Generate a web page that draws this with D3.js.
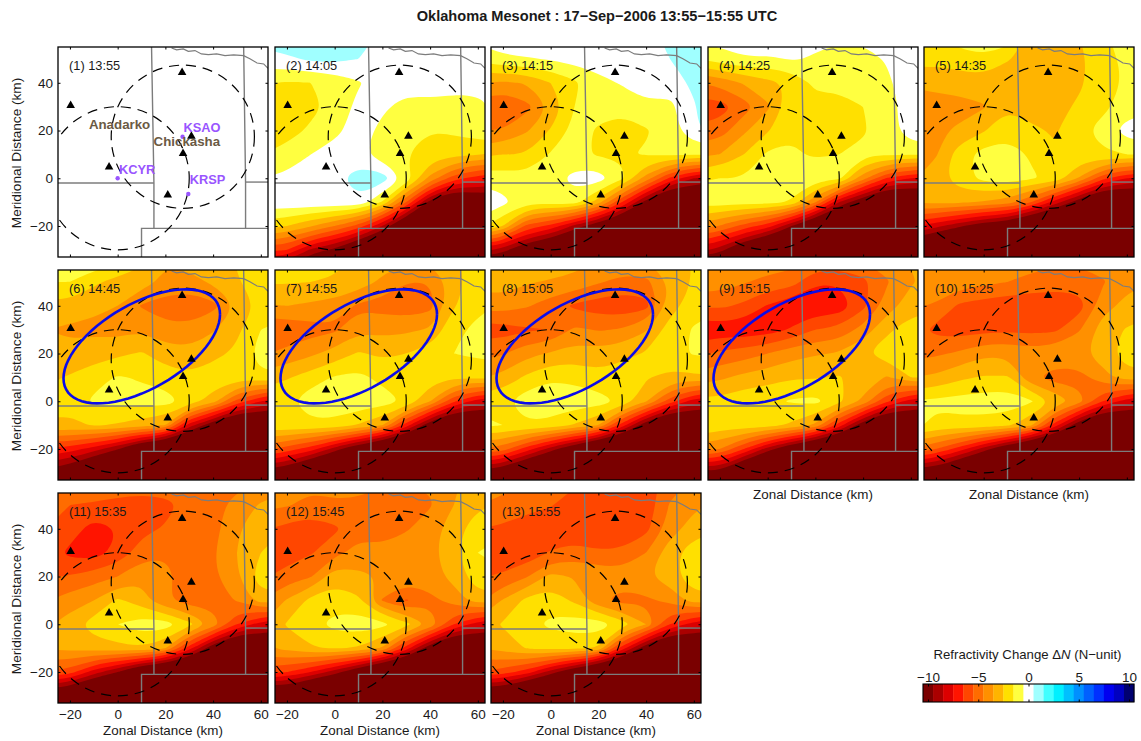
<!DOCTYPE html>
<html>
<head>
<meta charset="utf-8">
<script src="https://cdnjs.cloudflare.com/ajax/libs/d3/7.8.5/d3.min.js"></script>
<style>
body { margin: 0; background: #fff; }
text { font-family: "Liberation Sans", Arial, sans-serif; fill: #1a1a1a; }
</style>
</head>
<body>
<div id="chart"></div>
<script>
var svgWidth = 1141;
var svgHeight = 741;

var times = ["13:55", "14:05", "14:15", "14:25", "14:35", "14:45", "14:55",
    "15:05", "15:15", "15:25", "15:35", "15:45", "15:55"];

// grid the values were read on (km), rows go north to south
var gridX = [-30, -20, -10, 0, 10, 20, 30, 40, 50, 60, 70];
var gridY = [60, 50, 40, 30, 20, 10, 0, -10, -20, -30, -40];

var dN1355 = gridY.map(() => gridX.map(() => 0));

var dN1405 = [
    [1, 1.3, 1.4, 1.4, 1.2, 0.3, 0, 0, 0, 0, 0],
    [0.2, 0.3, 0.7, 0.8, 0.5, 0, 0, 0, 0, 0, 0],
    [-1.4, -1.6, -1.5, -1.2, -0.6, 0, 0, 0, -0.1, 0, 0],
    [-2, -2.2, -1.8, -1.2, -0.2, -0.3, -0.9, -0.8, -0.9, -0.9, -0.1],
    [-1.9, -2, -1.3, -0.8, 0, -0.8, -1.4, -1.5, -1.3, -1, -0.3],
    [-1.5, -1, -0.5, 0, -0.2, -1.1, -1.5, -1.9, -2.2, -2.4, -2.8],
    [-0.5, -0.3, -0.1, 0.2, 1.1, 1, -0.7, -3.8, -6, -7, -7.5],
    [0.2, 0.2, 0.2, 0.3, 0.3, -1.6, -5.5, -10, -12.5, -11, -11],
    [-2, -2.5, -3.4, -4.5, -5.9, -8.5, -12, -13, -13, -13, -13],
    [-6, -6.5, -8.7, -9.8, -12, -14, -14, -14, -14, -14, -14],
    [-11, -11, -13, -14, -15, -15, -15, -15, -15, -15, -15]
];
var dN1415 = [
    [0, 0.3, 0.6, 1.2, 0.9, 0.3, 0, 0, 1, 1.3, 1.4],
    [-1.2, -0.7, -0.6, -0.4, -0.1, 0, 0, 0, 0.5, 1, 1.3],
    [-3.4, -3.7, -3.4, -2.5, -1.7, -0.8, -0.4, 0, 0, 0.7, 0.8],
    [-5, -5.6, -4.8, -3.5, -1.5, -1.2, -1.2, -0.7, -0.8, 0.4, 1.3],
    [-4.5, -4.5, -3.6, -2.4, -1.2, -1.6, -2, -1.6, -1, 0.3, 1.2],
    [-2.7, -2.5, -2.5, -1.4, -1.3, -1.6, -1.6, -1.4, -1.3, -1.4, -1.4],
    [-0.9, -1, -1.1, -1, -0.1, 0, -1.3, -3.9, -6.7, -8.5, -9],
    [0.5, -0.2, -1.2, -1, -1, -3, -6.5, -10, -13, -12, -12],
    [-1, -2.5, -5.8, -6.8, -8.8, -10.5, -12.5, -14, -14, -14, -14],
    [-8, -9, -11, -12, -14, -14, -14, -14, -14, -14, -14],
    [-13, -14, -15, -15, -15, -15, -15, -15, -15, -15, -15]
];
var dN1425 = [
    [0, 0, 0.3, 0.8, 0, -0.2, -0.3, -0.2, 0, 0, 0.3],
    [-1.5, -1, -0.6, -0.7, -0.4, -0.6, -0.9, -0.9, -0.4, 0, 0.3],
    [-4.5, -4.2, -3.4, -2.8, -2.3, -1.3, -1.2, -1.2, -0.7, 0.1, 0.4],
    [-6, -6, -5, -3.7, -1.8, -1.8, -1.9, -1.5, -1.1, 0.2, 0.9],
    [-5.3, -5, -3.7, -2.6, -1.6, -1.8, -2, -1.6, -1.1, 0.2, 0.6],
    [-3.7, -3.5, -2.5, -1.3, -1.4, -1.6, -1.5, -1.3, -1.3, -1.4, -1.4],
    [-1.6, -1.5, -1.5, -1, -1, -1, -1.2, -4.1, -6.6, -7.5, -8],
    [-1, -1, -1.1, -1.1, -1.6, -4.4, -8.5, -10.7, -13, -12, -12],
    [-3.7, -4.6, -5.9, -7, -9.5, -12, -14, -14, -14, -14, -14],
    [-8, -9, -11.5, -13, -14, -14, -14, -14, -14, -14, -14],
    [-13, -14, -15, -15, -15, -15, -15, -15, -15, -15, -15]
];
var dN1435 = [
    [-1.3, -1.5, -0.8, -0.4, -0.6, -2.8, -2.6, -2.5, -1.6, -1, -0.9],
    [-2, -2.2, -2, -1.8, -2.4, -3, -2.8, -2.7, -2, -1.2, -1.1],
    [-3.4, -3.2, -3, -2.9, -3.3, -3.5, -2.9, -2.7, -1.8, -1.4, -1.2],
    [-3.9, -3.9, -3.9, -3.6, -2.6, -3, -2.9, -2.3, -1.7, -1.1, -0.8],
    [-3.8, -3.7, -3.3, -2.6, -1.8, -2.3, -2.6, -1.7, -1.2, 0, 0.4],
    [-3.7, -3.6, -1.9, -1.1, -1.1, -1.6, -2.4, -1.8, -1.6, -1.5, -1.5],
    [-3.6, -3, -1.9, -1.2, -0.9, -1.4, -1.7, -3.6, -6.2, -7.5, -8],
    [-3.4, -3.2, -3.3, -3.6, -4, -5.5, -8, -10.3, -13, -12, -12],
    [-7.2, -8.2, -9.3, -10.5, -11, -13, -14, -14, -14, -14, -14],
    [-11.5, -13.5, -14, -14, -14, -14, -14, -14, -14, -14, -14],
    [-15, -15, -15, -15, -15, -15, -15, -15, -15, -15, -15]
];
var dN1445 = [
    [-0.2, -0.5, -0.6, -1, -2.2, -3.3, -3, -2.9, -2.4, -1.6, -1.4],
    [-1.5, -1.5, -2.3, -2.9, -3, -3.8, -3.9, -3.3, -2.6, -1.9, -1.7],
    [-2.8, -2.9, -3.3, -3.5, -4.6, -5, -5.2, -4.8, -3.5, -2.2, -2],
    [-3.5, -3.7, -3.7, -3.9, -3.6, -4.2, -4.2, -3.6, -2.7, -1.5, -1.1],
    [-3, -3.2, -3, -2.7, -2.4, -3, -3.2, -2.8, -2.3, -1, -0.8],
    [-2.7, -2.4, -1.9, -1.4, -1.6, -2, -2.3, -1.9, -2, -1.7, -1.8],
    [-2.2, -2.2, -1.3, -1.2, -1.2, -1, -1.9, -3, -5.8, -7.5, -8.5],
    [-2.6, -2.7, -2.4, -2.6, -3, -3.5, -8, -10.5, -13, -12, -12],
    [-6.5, -7, -8, -9.4, -12, -13, -14, -14, -14, -14, -14],
    [-10, -11, -13, -14, -14, -14, -14, -14, -14, -14, -14],
    [-15, -15, -15, -15, -15, -15, -15, -15, -15, -15, -15]
];
var dN1455 = [
    [-1.6, -1.8, -2, -2.2, -2.6, -3, -3.2, -3.2, -2.6, -2, -1.8],
    [-2.4, -2.4, -2.5, -2.6, -2.9, -3.7, -4.5, -4.5, -2.9, -2, -1.7],
    [-3.6, -3.5, -3.7, -3.9, -4.7, -4.9, -5.1, -4.9, -2.6, -1.7, -1.4],
    [-5.3, -5.3, -4.9, -4.7, -3.7, -3.8, -3.7, -3.4, -1.7, -1.3, -1.1],
    [-4.6, -4.2, -3.7, -3.1, -2.4, -2.7, -2.5, -2, -1.5, -1.3, -1.2],
    [-3, -2.6, -2, -1.4, -1.2, -1.8, -1.9, -2, -2.4, -2.2, -2.2],
    [-1.8, -1.7, -0.9, -0.9, -0.8, -1, -1.6, -3.5, -6.3, -8, -8.5],
    [-1.7, -1.7, -1.7, -1.8, -2.6, -3.4, -7, -10.5, -13, -12, -12],
    [-5, -6, -7, -9, -11, -13, -14, -14, -14, -14, -14],
    [-10, -11, -13, -14, -14, -14, -14, -14, -14, -14, -14],
    [-15, -15, -15, -15, -15, -15, -15, -15, -15, -15, -15]
];
var dN1505 = [
    [-2.2, -2.3, -2.6, -2.8, -3, -3.4, -3.6, -3.4, -3, -2.4, -2.2],
    [-3, -3, -3.4, -3.6, -3.8, -4.4, -4.8, -4.8, -3.4, -2.4, -2.1],
    [-4.2, -4, -4.4, -5, -5.7, -6, -6.2, -5.9, -3, -1.9, -1.6],
    [-5.9, -6, -5.6, -5.5, -4.3, -4.6, -4.4, -3.6, -2, -1.4, -1.2],
    [-4.8, -4.6, -3.8, -3.4, -3, -3.1, -2.8, -2.4, -1.8, -1.4, -1.3],
    [-3.6, -3.2, -2.3, -1.6, -1.8, -2.2, -1.9, -2.4, -2.8, -2.7, -2.6],
    [-1.9, -1.7, -0.9, -0.9, -0.9, -1, -1.7, -3.4, -6, -8, -8.5],
    [-1.2, -1.5, -1.6, -1.8, -2.6, -3.5, -7, -10.5, -13, -12, -12],
    [-4.5, -5, -7, -9, -11, -13, -14, -14, -14, -14, -14],
    [-10, -11, -13, -14, -14, -14, -14, -14, -14, -14, -14],
    [-15, -15, -15, -15, -15, -15, -15, -15, -15, -15, -15]
];
var dN1515 = [
    [-3, -3.3, -3.5, -3.8, -4, -4.4, -4.6, -4.4, -4, -3.4, -3],
    [-3.8, -4, -4.4, -4.8, -5, -6.4, -6.4, -5.8, -4.6, -3.6, -3.2],
    [-5.4, -5.3, -5.7, -6.6, -7.2, -7.2, -7.2, -5.8, -4, -3, -2.7],
    [-7.2, -7.1, -7.2, -7, -6.4, -5.5, -5.2, -4.1, -2.7, -2, -1.8],
    [-5.8, -5.3, -5, -4.5, -3.9, -3.6, -3.4, -2.6, -2, -1.7, -1.5],
    [-4, -3.7, -3.2, -2.9, -2.6, -2.6, -2.4, -3, -3.6, -2.5, -2.5],
    [-2.2, -2.2, -1.8, -1.7, -1.4, -1.2, -2.2, -3.7, -6.3, -8, -8.5],
    [-1.4, -1.9, -1.9, -2, -2.7, -3.7, -7, -10.5, -13, -12, -12],
    [-4, -4.5, -6.5, -9, -11, -13, -14, -14, -14, -14, -14],
    [-10, -10, -13, -14, -14, -14, -14, -14, -14, -14, -14],
    [-15, -15, -15, -15, -15, -15, -15, -15, -15, -15, -15]
];
var dN1525 = [
    [-3, -3.2, -3.4, -3.5, -3.8, -4, -4.2, -4.2, -4, -3.6, -3.4],
    [-3.8, -3.9, -4, -4.2, -4.5, -4.8, -5, -5, -4.6, -3.8, -3.5],
    [-4.4, -4.6, -5.7, -6, -6.2, -6.3, -6.3, -6, -3.9, -3.2, -3],
    [-5, -5.8, -6, -5.8, -5.7, -5.8, -5.7, -4.6, -3, -2.4, -2],
    [-4.8, -4.7, -4.3, -3.7, -3.7, -4, -3.8, -3.7, -3.1, -1.8, -1.5],
    [-3.5, -3.3, -2.7, -2.4, -2.4, -4.3, -5, -4.9, -3.8, -3, -3],
    [-1.4, -1.3, -1.1, -1, -0.8, -1.4, -2.7, -4, -6.5, -8, -8.5],
    [-1.1, -1.8, -1.8, -1.9, -2.3, -3.3, -7, -10.5, -13, -12, -12],
    [-4.5, -5.5, -7, -9, -11, -13, -14, -14, -14, -14, -14],
    [-10.5, -11, -13, -14, -14, -14, -14, -14, -14, -14, -14],
    [-15, -15, -15, -15, -15, -15, -15, -15, -15, -15, -15]
];
var dN1535 = [
    [-4.5, -4.7, -4.8, -4.8, -4.8, -4.8, -5, -6, -5, -4.4, -4],
    [-5, -5.5, -5.6, -5.8, -6, -5.8, -5.2, -5, -4, -3.4, -3],
    [-5.5, -5.9, -7, -6.5, -5.8, -5.4, -5.1, -4.9, -3.6, -2.9, -2.5],
    [-5.8, -6.8, -7, -6.2, -5, -4.6, -5, -4.6, -3.5, -2.5, -2],
    [-5.6, -5.4, -5, -4.5, -3.7, -4.2, -5, -4.7, -3.6, -1.9, -1.6],
    [-4.6, -4, -3.5, -2.3, -3.1, -4.4, -5, -5, -4.4, -3, -3],
    [-3.7, -3, -2, -1.5, -0.9, -1, -2.2, -3.8, -6.5, -8, -8.5],
    [-3.4, -3.2, -3, -2.8, -2.6, -3.4, -7, -10.5, -13, -12, -12],
    [-5.5, -6, -8, -9.5, -12, -13, -14, -14, -14, -14, -14],
    [-11, -12, -14, -14, -14, -14, -14, -14, -14, -14, -14],
    [-15, -15, -15, -15, -15, -15, -15, -15, -15, -15, -15]
];
var dN1545 = [
    [-4, -4, -4.2, -4.2, -4.3, -4.4, -4.4, -4.4, -3.6, -3.2, -3],
    [-4.2, -4.4, -4.8, -4.6, -4.6, -4.8, -4.8, -4.6, -3.5, -2.7, -2.4],
    [-5.4, -5.8, -6.1, -5.7, -4.8, -5, -4.6, -4, -2.9, -1.9, -1.6],
    [-6, -6.1, -5.6, -4.8, -4.2, -4.2, -3.9, -3.8, -2.8, -1.5, -1.3],
    [-5.7, -5, -4.6, -2.9, -3.2, -3.6, -4, -3.9, -3.2, -1.8, -1.6],
    [-4.5, -3.4, -2.2, -1.9, -2.3, -4.6, -5.6, -4.8, -4, -3, -3],
    [-3.5, -2.4, -1.8, -1.2, -0.9, -1.2, -2.2, -3.6, -6.5, -8, -8.5],
    [-3.6, -3.2, -2.6, -2.4, -2.6, -3.6, -7, -10.5, -13, -12, -12],
    [-6, -6.5, -7.5, -9, -11, -13, -14, -14, -14, -14, -14],
    [-12, -12, -14, -14, -14, -14, -14, -14, -14, -14, -14],
    [-15, -15, -15, -15, -15, -15, -15, -15, -15, -15, -15]
];
var dN1555 = [
    [-4, -4.2, -4.5, -4.8, -5.2, -6, -6, -6, -5, -4.4, -4],
    [-4.5, -4.7, -5, -5.4, -6.2, -6.2, -6.2, -6.2, -4.4, -3.7, -3.4],
    [-5.5, -5.7, -6.3, -6.3, -6.3, -6.3, -6.3, -5.8, -4, -3, -2.6],
    [-6.2, -6.4, -6.2, -5.4, -5, -5.4, -5.3, -4.5, -2.9, -1.9, -1.6],
    [-5.6, -5.3, -4.6, -3.2, -3.6, -3.7, -4, -3.6, -3, -1.7, -1.5],
    [-4.8, -3.4, -2.2, -1.9, -2.7, -4.3, -4.9, -4.7, -4.2, -3, -3],
    [-3, -2.4, -1.8, -1.3, -1, -0.9, -2, -3.5, -6.5, -8, -8.5],
    [-3.5, -3.1, -2.4, -2.2, -2.3, -2.6, -7, -10.5, -13, -12, -12],
    [-5.5, -6, -7, -9, -11, -13, -14, -14, -14, -14, -14],
    [-11.5, -12, -14, -14, -14, -14, -14, -14, -14, -14, -14],
    [-15, -15, -15, -15, -15, -15, -15, -15, -15, -15, -15]
];

var panelData = [dN1355, dN1405, dN1415, dN1425, dN1435, dN1445, dN1455,
    dN1505, dN1515, dN1525, dN1535, dN1545, dN1555];

var bandValues = d3.range(-10, 11);
var bandColors = ["#7a0000", "#aa0000", "#dc0000", "#ff1400", "#ff4600", "#ff6c00", "#ff9000",
    "#ffb400", "#ffe000", "#ffff40", "#ffffff", "#a0ffff", "#40ffff", "#00f0ff", "#00c0ff",
    "#0090ff", "#0060ff", "#0030ff", "#0000f0", "#0000c0", "#000070"];

var xTicks = [-20, 0, 20, 40, 60];
var yTicks = [-20, 0, 20, 40];

// mesonet stations
var stationX = [-19.7, -3.6, 27, 30.9, 27.4, 21];
var stationY = [30.5, 4.7, 44.3, 17.6, 10.4, -7];

// radar sites and the towns, only named in the first panel
var radarNames = ["KCYR", "KSAO", "KRSP"];
var radarX = [0, 27.2, 29.6];
var radarY = [0, 17.4, -6.6];
var radarLabelX = [0.6, 27.6, 30.2];
var radarLabelY = [1.8, 19.2, -2.2];
var townNames = ["Anadarko", "Chickasha"];
var townX = [0.8, 29];
var townY = [20.5, 13.6];

// coverage rings, centred on KCYR and KSAO
var ringX = [0, 27.3];
var ringY = [0, 17.4];
var ringRadius = 30;

var countyLines = [
    [[14.2, 55], [15.2, -2], [15.2, -21]],
    [[-25, -2], [15.2, -2]],
    [[52.8, 55], [53.6, -2], [53.6, -21]],
    [[53.6, -1.6], [63, -1.6]],
    [[10, -33], [10, -21], [63, -21]]
];
var riverLine = [[22.6, 54.6], [24.7, 53.8], [27.5, 54.2], [29.6, 53.2], [32.4, 53.5], [35.1, 52.1],
    [38, 51.8], [41.5, 52.1], [45, 51.4], [48.6, 51.7], [52.8, 51.4], [55.6, 50], [58.4, 48.3],
    [61.2, 47.9], [63, 46.1]];

// blue ellipse in panels 6-9
var ellipsePanels = [5, 6, 7, 8];
var ellipseCenter = [10.1, 23];
var ellipseAxes = [32.8, 23.9];
var ellipsePhase = 0.975;

var panelWidth = 210;
var panelHeight = 210;
var panelLeft = [58, 275, 491, 708, 924];
var panelTop = [47, 270, 493];

var svg = d3
    .select("#chart")
    .append("svg")
    .attr("width", svgWidth)
    .attr("height", svgHeight)
    .style("display", "block");

svg.append("text")
    .attr("x", 597)
    .attr("y", 21)
    .attr("text-anchor", "middle")
    .attr("font-size", 14.6)
    .attr("font-weight", "bold")
    .text("Oklahoma Mesonet : 17\u2212Sep\u22122006 13:55\u221215:55 UTC");

var xScale = d3.scaleLinear().domain([-25, 63]).range([0, panelWidth]);
var yScale = d3.scaleLinear().domain([-33, 55]).range([panelHeight, 0]);

var contourGen = d3.contours()
    .size([gridX.length, gridY.length])
    .thresholds(bandValues.slice(1).map(d => d - 0.5));

// contour coordinates are in cells, value i sits at i + 0.5
var cellX = d3.scaleLinear().domain([0.5, gridX.length - 0.5]).range([gridX[0], gridX[gridX.length - 1]]);
var cellY = d3.scaleLinear().domain([0.5, gridY.length - 0.5]).range([gridY[0], gridY[gridY.length - 1]]);

var ringPath = d3.line()
    .x(d => xScale(cellX(d[0])))
    .y(d => yScale(cellY(d[1])))
    .curve(d3.curveBasisClosed);

var kmLine = d3.line().x(d => xScale(d[0])).y(d => yScale(d[1]));

var ellipsePoints = d3.range(0, 73).map(function(i) {
    var t = i / 72 * 2 * Math.PI;
    return [ellipseCenter[0] + ellipseAxes[0] * Math.cos(t),
        ellipseCenter[1] + ellipseAxes[1] * Math.cos(t - ellipsePhase)];
});

svg.append("clipPath")
    .attr("id", "panelClip")
    .append("rect")
    .attr("width", panelWidth)
    .attr("height", panelHeight);

function drawPanel(index) {
    var col = index % 5;
    var row = Math.floor(index / 5);
    var panel = svg.append("g")
        .attr("transform", `translate(${panelLeft[col]},${panelTop[row]})`);
    var plot = panel.append("g").attr("clip-path", "url(#panelClip)");

    // lowest band goes underneath, each contour paints the one above it
    plot.append("rect")
        .attr("width", panelWidth)
        .attr("height", panelHeight)
        .attr("fill", bandColors[0]);

    plot.selectAll("path.band")
        .data(contourGen(panelData[index].flat()))
        .enter()
        .append("path")
        .attr("class", "band")
        .attr("fill", (d, i) => bandColors[i + 1])
        .attr("d", function(d) {
            return d.coordinates.map(function(polygon) {
                return polygon.map(ring => ringPath(ring.slice(0, -1))).join("");
            }).join("");
        });

    plot.selectAll("path.county")
        .data(countyLines)
        .enter()
        .append("path")
        .attr("class", "county")
        .attr("d", kmLine)
        .attr("fill", "none")
        .attr("stroke", "#7c7c7c")
        .attr("stroke-width", 1.4);

    plot.append("path")
        .attr("d", kmLine(riverLine))
        .attr("fill", "none")
        .attr("stroke", "#7c7c7c")
        .attr("stroke-width", 1.2);

    plot.selectAll("circle.ring")
        .data(ringX)
        .enter()
        .append("circle")
        .attr("class", "ring")
        .attr("cx", d => xScale(d))
        .attr("cy", (d, i) => yScale(ringY[i]))
        .attr("r", xScale(ringRadius) - xScale(0))
        .attr("fill", "none")
        .attr("stroke", "#000")
        .attr("stroke-width", 1.2)
        .attr("stroke-dasharray", "10,7");

    if (ellipsePanels.includes(index)) {
        plot.append("path")
            .attr("d", kmLine(ellipsePoints))
            .attr("fill", "none")
            .attr("stroke", "#0c0ce8")
            .attr("stroke-width", 2.6);
    }

    plot.selectAll("path.station")
        .data(stationX)
        .enter()
        .append("path")
        .attr("class", "station")
        .attr("d", d3.symbol().type(d3.symbolTriangle).size(32))
        .attr("transform", (d, i) => `translate(${xScale(d)},${yScale(stationY[i])})`)
        .attr("fill", "#000");

    if (index === 0) {
        plot.selectAll("circle.radar")
            .data(radarX)
            .enter()
            .append("circle")
            .attr("class", "radar")
            .attr("cx", d => xScale(d))
            .attr("cy", (d, i) => yScale(radarY[i]))
            .attr("r", 2.2)
            .attr("fill", "#9955ff");

        plot.selectAll("text.radar")
            .data(radarNames)
            .enter()
            .append("text")
            .attr("class", "radar")
            .attr("x", (d, i) => xScale(radarLabelX[i]))
            .attr("y", (d, i) => yScale(radarLabelY[i]))
            .attr("font-size", 12.8)
            .attr("font-weight", "bold")
            .style("fill", "#9955ff")
            .text(d => d);

        plot.selectAll("text.town")
            .data(townNames)
            .enter()
            .append("text")
            .attr("class", "town")
            .attr("x", (d, i) => xScale(townX[i]))
            .attr("y", (d, i) => yScale(townY[i]))
            .attr("text-anchor", "middle")
            .attr("font-size", 13.3)
            .attr("font-weight", "bold")
            .style("fill", "#6b5a44")
            .text(d => d);
    }

    panel.append("text")
        .attr("x", 11)
        .attr("y", 22.5)
        .attr("font-size", 12.8)
        .text(`(${index + 1}) ${times[index]}`);

    // ticks point inward on all four sides, numbers only on the outer panels
    var showX = index >= 10;
    var showY = col === 0;
    var axes = [
        panel.append("g").attr("transform", `translate(0,${panelHeight})`)
            .call(d3.axisBottom(xScale).tickValues(xTicks).tickSizeInner(-2.5).tickSizeOuter(0).tickPadding(6)
                .tickFormat(showX ? d3.format("d") : "")),
        panel.append("g")
            .call(d3.axisTop(xScale).tickValues(xTicks).tickSizeInner(-2.5).tickSizeOuter(0).tickFormat("")),
        panel.append("g")
            .call(d3.axisLeft(yScale).tickValues(yTicks).tickSizeInner(-2.5).tickSizeOuter(0).tickPadding(5)
                .tickFormat(showY ? d3.format("d") : "")),
        panel.append("g").attr("transform", `translate(${panelWidth},0)`)
            .call(d3.axisRight(yScale).tickValues(yTicks).tickSizeInner(-2.5).tickSizeOuter(0).tickFormat(""))
    ];
    axes.forEach(function(axis) {
        axis.select(".domain").remove();
        axis.selectAll("text")
            .attr("font-size", 13.5)
            .attr("font-family", "'Liberation Sans', Arial, sans-serif");
        axis.selectAll("line").attr("stroke", "#000");
    });

    panel.append("rect")
        .attr("width", panelWidth)
        .attr("height", panelHeight)
        .attr("fill", "none")
        .attr("stroke", "#000")
        .attr("stroke-width", 1.3);

    if (index >= 8) {
        panel.append("text")
            .attr("x", panelWidth / 2)
            .attr("y", panelHeight + (showX ? 32 : 19))
            .attr("text-anchor", "middle")
            .attr("font-size", 13.4)
            .text("Zonal Distance (km)");
    }
    if (showY) {
        panel.append("text")
            .attr("transform", `translate(-37,${panelHeight / 2 + 1}) rotate(-90)`)
            .attr("text-anchor", "middle")
            .attr("font-size", 13.6)
            .text("Meridional Distance (km)");
    }
}

d3.range(times.length).forEach(drawPanel);

// colour bar
var barLeft = 923;
var barWidth = 211;
var barTop = 684;
var barHeight = 18;

var barScale = d3.scaleLinear().domain([-10.5, 10.5]).range([0, barWidth]);
var bar = svg.append("g").attr("transform", `translate(${barLeft},${barTop})`);

bar.selectAll("rect.swatch")
    .data(bandValues)
    .enter()
    .append("rect")
    .attr("class", "swatch")
    .attr("x", d => barScale(d - 0.5))
    .attr("width", barScale(1) - barScale(0) + 0.3)
    .attr("height", barHeight)
    .attr("fill", (d, i) => bandColors[i]);

var barTicks = [-10, -5, 0, 5, 10];
var barAxis = bar.append("g")
    .call(d3.axisTop(barScale).tickValues(barTicks).tickSizeInner(-2.5).tickSizeOuter(0).tickPadding(4)
        .tickFormat(d3.format("d")));
barAxis.select(".domain").remove();
barAxis.selectAll("text")
    .attr("font-size", 13.5)
    .attr("y", -2)
    .attr("font-family", "'Liberation Sans', Arial, sans-serif");

var barAxisLow = bar.append("g").attr("transform", `translate(0,${barHeight})`)
    .call(d3.axisBottom(barScale).tickValues(barTicks).tickSizeInner(-2.5).tickSizeOuter(0).tickFormat(""));
barAxisLow.select(".domain").remove();

bar.append("rect")
    .attr("width", barWidth)
    .attr("height", barHeight)
    .attr("fill", "none")
    .attr("stroke", "#000")
    .attr("stroke-width", 1.1);

var barTitle = bar.append("text")
    .attr("x", barWidth / 2 - 1)
    .attr("y", -25)
    .attr("text-anchor", "middle")
    .attr("font-size", 13.2);
barTitle.append("tspan").text("Refractivity Change \u0394");
barTitle.append("tspan").attr("font-style", "italic").text("N");
barTitle.append("tspan").text(" (N\u2212unit)");
</script>
</body>
</html>
